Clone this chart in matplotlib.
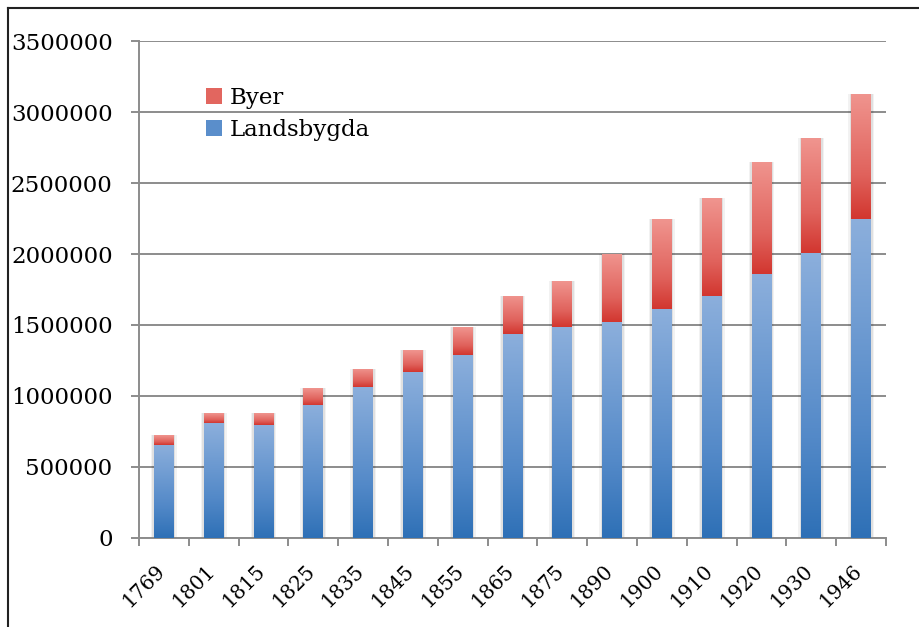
import numpy as np
import matplotlib
matplotlib.use("Agg")
import matplotlib.pyplot as plt
import matplotlib.transforms as mtrans
from matplotlib.colors import LinearSegmentedColormap
from matplotlib.patches import Rectangle
from matplotlib.lines import Line2D

years = ["1769", "1801", "1815", "1825", "1835", "1845", "1855", "1865",
         "1875", "1890", "1900", "1910", "1920", "1930", "1946"]
landsbygda = [656000, 809000, 797000, 938000, 1065000, 1171000, 1288000, 1439000,
              1486000, 1521000, 1613000, 1707000, 1860000, 2010000, 2245000]
totals = [723000, 877000, 877000, 1053000, 1192000, 1321000, 1484000, 1707000,
          1810000, 2001000, 2245000, 2396000, 2652000, 2819000, 3131000]
byer = [t - l for t, l in zip(totals, landsbygda)]

plt.rcParams['font.family'] = ['DejaVu Serif']

fig = plt.figure(figsize=(9.19, 6.27), dpi=100)
ax = fig.add_axes([139/919, 89.3/627, 747/919, 496.4/627])

x = np.arange(len(years))
w = 0.4

blue_cmap = LinearSegmentedColormap.from_list(
    "b", [(0.0, "#2e70b6"), (0.35, "#5389c8"), (1.0, "#8cafdc")])
red_cmap = LinearSegmentedColormap.from_list(
    "r", [(0.0, "#d2362f"), (0.35, "#e0625c"), (1.0, "#f0958f")])

grad = np.linspace(0, 1, 512).reshape(-1, 1)

def grad_bars(bars, cmap):
    for b in bars:
        x0, y0, bw, bh = b.get_x(), b.get_y(), b.get_width(), b.get_height()
        im = ax.imshow(grad, cmap=cmap, aspect="auto", origin="lower",
                       interpolation="bilinear",
                       extent=(x0, x0 + bw, y0, y0 + bh), zorder=3)
        im.set_clip_path(b)

b1 = ax.bar(x, landsbygda, w, facecolor="none", edgecolor="none", zorder=3)
b2 = ax.bar(x, byer, w, bottom=landsbygda, facecolor="none", edgecolor="none", zorder=3)
# soft shadows behind bars
for b in list(b1) + list(b2):
    for k, a in [(0.06, 0.05), (0.03, 0.07)]:
        ax.add_patch(Rectangle((b.get_x() - k, b.get_y()), b.get_width() + 2 * k,
                               b.get_height(), facecolor="#000000", alpha=a,
                               edgecolor="none", zorder=2))
grad_bars(b1, blue_cmap)
grad_bars(b2, red_cmap)

ax.set_xlim(-0.5, len(years) - 0.5)
ax.set_ylim(0, 3500000)
ax.set_yticks(np.arange(0, 3500001, 500000))
ax.set_yticklabels([str(v) for v in range(0, 3500001, 500000)], fontsize=16.5)
ax.yaxis.grid(True, color="#8c8c8c", linewidth=1.4, zorder=1)
ax.set_axisbelow(True)

ax.set_xticks(x)
ax.set_xticklabels(years, rotation=45, ha="right", fontsize=14.5)
ax.tick_params(axis="x", length=0, pad=17)
offset = mtrans.ScaledTranslation(5/100, 0, fig.dpi_scale_trans)
for lab in ax.get_xticklabels():
    lab.set_transform(lab.get_transform() + offset)
ax.set_xticks(np.arange(-0.5, len(years), 1), minor=True)
ax.tick_params(axis="x", which="minor", length=6, width=1.4, color="#8c8c8c", direction="out")
ax.tick_params(axis="y", length=6, width=1.4, color="#8c8c8c", direction="out", pad=13)

for s in ["top", "right"]:
    ax.spines[s].set_visible(False)
for s in ["left", "bottom"]:
    ax.spines[s].set_color("#8c8c8c")
    ax.spines[s].set_linewidth(1.4)

handles = [Rectangle((0, 0), 1, 1, facecolor="#e2665f", edgecolor="none"),
           Rectangle((0, 0), 1, 1, facecolor="#5a8ecb", edgecolor="none")]
leg = ax.legend(handles, ["Byer", "Landsbygda"], loc="upper left",
                bbox_to_anchor=(0.062, 0.95), frameon=False, fontsize=16.5,
                handlelength=0.7, handleheight=0.7, handletextpad=0.35,
                labelspacing=0.45)

# outer frame lines (screenshot border)
fig.add_artist(Line2D([8/919, 1], [1 - 8/627, 1 - 8/627], color="#222222", lw=1.5,
                      transform=fig.transFigure))
fig.add_artist(Line2D([8/919, 8/919], [0, 1 - 8/627], color="#222222", lw=1.5,
                      transform=fig.transFigure))

fig.savefig("out.png", dpi=100)
